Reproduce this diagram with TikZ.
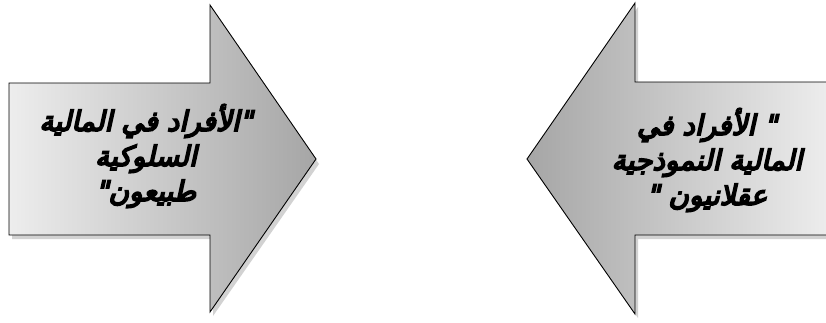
\documentclass[tikz,border=0pt]{standalone}
\usepackage{fontspec}
\TeXXeTstate=1
\newfontfamily\arabicfont[Script=Arabic,FakeSlant=0.22,FakeBold=6]{DejaVu Sans}
\begin{document}
\begin{tikzpicture}[x=1pt,y=-1pt,
  arrowshape/.style={draw=black,line width=0.9pt,line join=miter},
  shadowshape/.style={fill=black!35,opacity=0.5},
  label/.style={font=\arabicfont\fontsize{28}{35}\selectfont,align=center,text=black,inner sep=0pt}]
\useasboundingbox (0,0) rectangle (826,322);
\begin{scope}
\clip (0,0) rectangle (826,322);
% shadows
\fill[shadowshape] (12,87) -- (213,87) -- (213,9) -- (319,164) -- (213,316) -- (213,239) -- (12,239) -- cycle;
\fill[shadowshape] (830,86) -- (638,86) -- (638,7) -- (530,164) -- (638,318) -- (638,239) -- (830,239) -- cycle;
% left arrow (pointing right)
\shade[left color=black!7,right color=black!35] (9,83) -- (210,83) -- (210,5) -- (316,159) -- (210,312) -- (210,235) -- (9,235) -- cycle;
\draw[arrowshape] (9,83) -- (210,83) -- (210,5) -- (316,159) -- (210,312) -- (210,235) -- (9,235) -- cycle;
% right arrow (pointing left)
\shade[left color=black!35,right color=black!7] (830,82) -- (635,82) -- (635,3) -- (527,159) -- (635,314) -- (635,235) -- (830,235) -- cycle;
\draw[arrowshape] (830,82) -- (635,82) -- (635,3) -- (527,159) -- (635,314) -- (635,235) -- (830,235) -- cycle;
\end{scope}
% texts
\node[label] (lt) at (146,156) {\beginR "الأفراد في المالية\endR\\ \beginR السلوكية\endR\\ \beginR طبيعون"\endR};
\node[label] (rt) at (707,160) {\beginR " الأفراد في\endR\\ \beginR المالية النموذجية\endR\\ \beginR عقلانيون "\endR};
\end{tikzpicture}
\end{document}
